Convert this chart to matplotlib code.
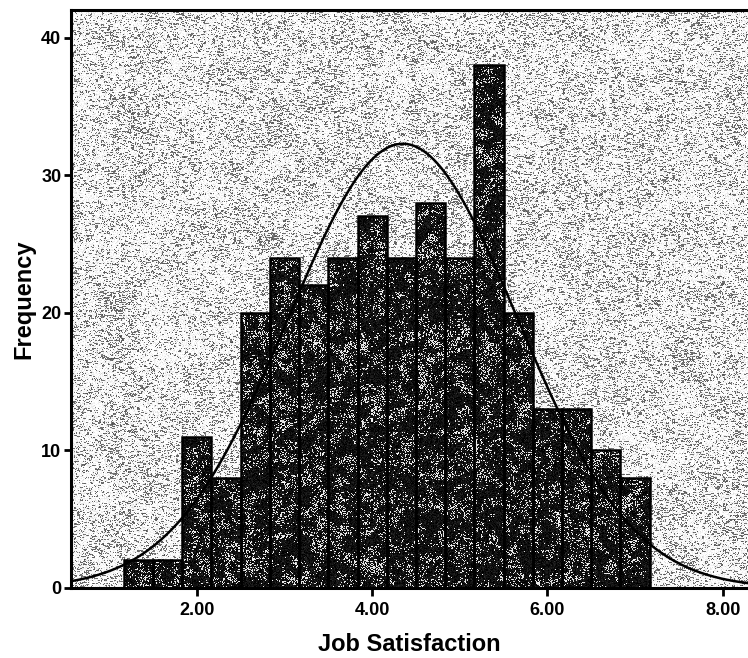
import numpy as np
import matplotlib.pyplot as plt
from matplotlib.patches import Rectangle

plt.rcParams['font.family'] = ['Liberation Sans', 'DejaVu Sans']
plt.rcParams['font.weight'] = 'bold'

# histogram of job satisfaction scores (bins of width 1/3, centred on thirds)
bin_centers = [4/3 + k/3 for k in range(18)]
counts = [2, 2, 11, 8, 20, 24, 22, 24, 27, 24, 28, 24, 38, 20, 13, 13, 10, 8]
bin_width = 1/3

# fitted normal curve parameters
mean = 4.35
std_dev = 1.31
n_cases = sum(counts)

x_ticks = [2, 4, 6, 8]
x_tick_labels = ['2.00', '4.00', '6.00', '8.00']
y_ticks = [0, 10, 20, 30, 40]

xmin, xmax = 0.563, 8.29
ymin, ymax = 0, 42.0

fig = plt.figure(figsize=(7.48, 6.58), dpi=100)
ax = fig.add_axes([0.0949, 0.1064, 0.9051, 0.8784])
ax.set_xlim(xmin, xmax)
ax.set_ylim(ymin, ymax)

rng = np.random.default_rng(7)


def smooth(a, k):
    # box blur with wrap-around so the borders are not washed out
    p = np.pad(a, k, mode='wrap')
    kern = np.ones(k) / k
    p = np.apply_along_axis(lambda r: np.convolve(r, kern, mode='same'), 1, p)
    p = np.apply_along_axis(lambda c: np.convolve(c, kern, mode='same'), 0, p)
    return p[k:-k, k:-k]


def normed(a):
    return (a - a.mean()) / a.std()


h, w = 580, 680
# speckled grey background, streaky horizontally
bg_noise = rng.random((h, w))
streak = np.repeat(rng.random((h, w // 3 + 1)), 3, axis=1)[:, :w]
blot = normed(smooth(rng.random((h, w)), 25))
bg_prob = 0.33 + 0.035 * blot
bg = np.where((bg_noise * 0.45 + streak * 0.55) < bg_prob, 0.42, 0.98)
bg = bg + rng.normal(0, 0.05, (h, w))
ax.imshow(np.clip(bg, 0, 1), cmap='gray', vmin=0, vmax=1,
          extent=(xmin, xmax, ymin, ymax), aspect='auto',
          interpolation='nearest', zorder=0)

# dark mottled texture for bar fills
clouds = normed(smooth(rng.random((h, w)), 9))
speck = rng.random((h, w))
dark = np.where(speck < 0.13 + 0.13 * clouds, 0.9, 0.06)
dark = np.clip(dark + rng.normal(0, 0.05, (h, w)), 0, 1)

for cx, c in zip(bin_centers, counts):
    rect = Rectangle((cx - bin_width / 2, 0), bin_width, c,
                     facecolor='none', edgecolor='black', linewidth=1.8, zorder=3)
    ax.add_patch(rect)
    im = ax.imshow(dark, cmap='gray', vmin=0, vmax=1,
                   extent=(xmin, xmax, ymin, ymax), aspect='auto',
                   interpolation='nearest', zorder=2)
    im.set_clip_path(rect)

xs = np.linspace(xmin, xmax, 400)
curve = n_cases * bin_width / (std_dev * np.sqrt(2 * np.pi)) * np.exp(-0.5 * ((xs - mean) / std_dev) ** 2)
ax.plot(xs, curve, color='black', linewidth=1.8, zorder=4)

for side in ['left', 'bottom', 'top']:
    ax.spines[side].set_linewidth(2.2)
ax.spines['right'].set_visible(False)

ax.set_xticks(x_ticks)
ax.set_xticklabels(x_tick_labels)
ax.set_yticks(y_ticks)
ax.tick_params(axis='both', direction='out', length=6, width=2, labelsize=13, pad=4)
ax.tick_params(axis='y', length=5, pad=2)

ax.set_xlabel('Job Satisfaction', fontsize=17, fontweight='bold', labelpad=10)
ax.set_ylabel('Frequency', fontsize=17, fontweight='bold', labelpad=4)

fig.savefig('out.png', dpi=100)
